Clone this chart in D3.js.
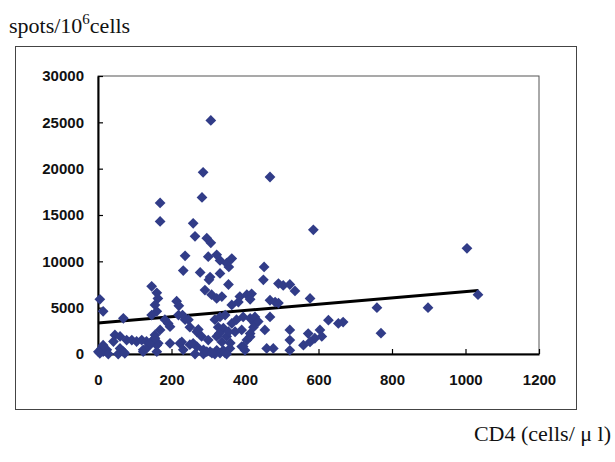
<!DOCTYPE html>
<html>
<head>
<meta charset="utf-8" />
<title>CD4 vs spots</title>
<style>
html, body { margin:0; padding:0; background:#FFFFFF; }
svg { display:block; }
.tick text { font-family:"Liberation Sans", Arial, sans-serif; font-weight:bold; font-size:15px; fill:#111; }
</style>
<script src="https://cdn.jsdelivr.net/npm/d3@7"></script>
</head>
<body>
<script>
// CD4 count (cells/ul) and spots per 10^6 cells
var cd4 = [307,286,468,283,169,169,259,586,264,296,307,1004,237,300,323,332,350,364,356,452,
  232,278,305,332,302,450,355,491,504,522,536,146,160,163,291,309,323,337,386,405,
  418,414,364,382,214,220,5,14,69,155,160,146,182,191,468,482,491,577,1034,759,
  898,667,770,654,627,
  219,237,250,269,282,300,318,332,346,327,341,364,377,395,414,427,323,337,350,373,
  391,405,323,341,359,305,287,269,250,228,264,287,391,400,427,436,423,414,454,468,
  522,522,522,604,572,590,609,559,577,459,477,196,169,196,223,259,232,296,273,230,
  246,414,395,332,345,350,318,310,355,360,330,
  155,164,150,46,60,42,78,92,105,119,132,10,24,14,60,69,123,137,160,1,
  28,55,5,73,160,123,14,141,155];
var spots = [25200,19600,19100,16900,16300,14300,14100,13400,12700,12500,12000,11400,10600,10500,10700,10100,9800,10300,9400,9400,
  9000,8800,8300,8700,8000,8000,7500,7600,7400,7500,6800,7300,6600,6000,6900,6400,6000,6200,6200,6400,
  6500,5900,5300,5600,5700,5200,5900,4600,3850,5300,4600,4200,3700,3300,5800,5600,5500,6000,6400,5000,
  5000,3450,2250,3300,3650,
  4200,3700,2900,2400,1900,1500,3700,4000,4200,2900,2800,3300,3700,4000,3850,3300,1900,1300,1900,2400,
  2600,1500,400,400,600,250,450,800,1000,1300,0,0,800,400,4000,3500,2900,2200,2600,4000,
  2600,1500,400,2600,2200,1700,1900,950,1300,600,600,2950,2600,1150,1150,1150,450,250,2650,4200,
  3700,1850,800,100,150,0,0,100,2400,1200,2200,
  2050,1150,1500,2050,1900,1350,1500,1500,1350,1500,1350,600,450,250,600,250,450,800,950,250,
  0,0,80,80,250,250,950,1150,1700];

var xTicks = [0,200,400,600,800,1000,1200];
var yTicks = [0,5000,10000,15000,20000,25000,30000];

// trend line (start, end of x and the fitted values)
var trendX = [0, 1035];
var trendY = [3350, 6850];

var yTitle = "spots/10";
var xTitle = "CD4 (cells/ \u03bc l)";

var W = 615, H = 462;
var svg = d3.select("body").append("svg").attr("width", W).attr("height", H);

// outer frame
svg.append("rect").attr("x", 15.5).attr("y", 46.5).attr("width", 561).attr("height", 363)
  .attr("fill", "none").attr("stroke", "#444").attr("stroke-width", 1);

var x = d3.scaleLinear().domain([0, 1200]).range([98, 539]);
var y = d3.scaleLinear().domain([0, 30000]).range([354, 76]);

// plot area border
svg.append("rect").attr("x", x(0)).attr("y", y(30000))
  .attr("width", x(1200) - x(0)).attr("height", y(0) - y(30000))
  .attr("fill", "none").attr("stroke", "#555").attr("stroke-width", 1);

var yAxis = d3.axisLeft(y).tickValues(yTicks).tickSizeInner(-5).tickSizeOuter(0).tickPadding(14)
  .tickFormat(d3.format("d"));
var gy = svg.append("g").attr("transform", "translate(" + x(0) + ",0)").call(yAxis);
gy.select(".domain").attr("stroke", "#000").attr("stroke-width", 2);
gy.selectAll(".tick line").attr("stroke", "#000").attr("stroke-width", 1.2);

var xAxis = d3.axisBottom(x).tickValues(xTicks).tickSizeInner(-5).tickSizeOuter(0).tickPadding(20)
  .tickFormat(d3.format("d"));
var gx = svg.append("g").attr("transform", "translate(0," + y(0) + ")").call(xAxis);
gx.select(".domain").attr("stroke", "#000").attr("stroke-width", 2);
gx.selectAll(".tick line").attr("stroke", "#000").attr("stroke-width", 1.2);

// trend line
svg.append("line")
  .attr("x1", x(trendX[0])).attr("y1", y(trendY[0]))
  .attr("x2", x(trendX[1])).attr("y2", y(trendY[1]))
  .attr("stroke", "#000").attr("stroke-width", 3);

// diamond markers
var diamond = d3.symbol().type(d3.symbolSquare).size(58);
svg.append("g").selectAll("path").data(d3.range(cd4.length)).join("path")
  .attr("d", diamond)
  .attr("transform", function(i){ return "translate(" + x(cd4[i]) + "," + y(spots[i]) + ") rotate(45)"; })
  .attr("fill", "#313c88");

// titles
var t = svg.append("text").attr("x", 9).attr("y", 33)
  .attr("font-family", "'Liberation Serif', 'Times New Roman', serif").attr("font-size", 22).attr("fill", "#111");
t.append("tspan").text(yTitle);
t.append("tspan").attr("dy", -9).attr("font-size", 15).text("6");
t.append("tspan").attr("dy", 9).text("cells");

svg.append("text").attr("x", 611).attr("y", 441).attr("text-anchor", "end")
  .attr("font-family", "'Liberation Serif', 'Times New Roman', serif").attr("font-size", 22).attr("fill", "#111")
  .text(xTitle);
</script>
</body>
</html>
